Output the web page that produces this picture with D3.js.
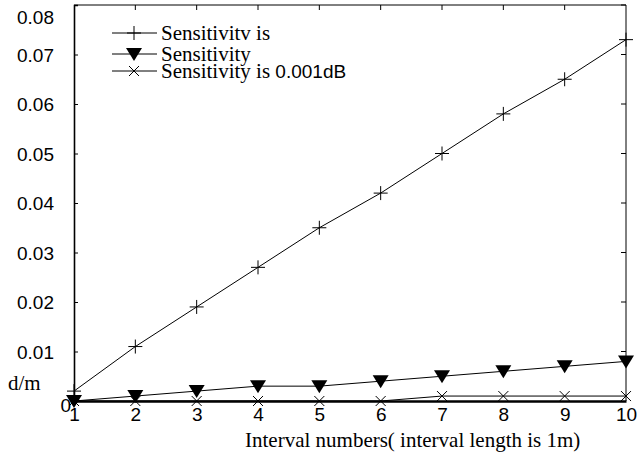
<!DOCTYPE html>
<html>
<head>
<meta charset="utf-8">
<script src="https://cdn.jsdelivr.net/npm/d3@7"></script>
<style>
body { margin: 0; background: #fff; }
svg { display: block; }
</style>
</head>
<body>
<svg id="chart" width="641" height="454"></svg>
<script>
// values
const intervals = [1, 2, 3, 4, 5, 6, 7, 8, 9, 10];
const plusValues = [0.002, 0.011, 0.019, 0.027, 0.035, 0.042, 0.050, 0.058, 0.065, 0.073];
const triValues = [0, 0.001, 0.002, 0.003, 0.003, 0.004, 0.005, 0.006, 0.007, 0.008];
const crossValues = [0, 0, 0, 0, 0, 0, 0.001, 0.001, 0.001, 0.001];
const yTicks = [0.01, 0.02, 0.03, 0.04, 0.05, 0.06, 0.07, 0.08];
const legendLabels = ["Sensitivitv is", "Sensitivity", "Sensitivity is "];

const svg = d3.select("#chart");
const plotLeft = 74, plotRight = 626, plotTop = 5, plotBottom = 401;

const x = d3.scaleLinear().domain([1, 10]).range([plotLeft, plotRight]);
const y = d3.scaleLinear().domain([0, 0.08]).range([plotBottom, plotTop]);

const sans = "'Liberation Sans', Arial, sans-serif";
const serif = "'Liberation Serif', 'Times New Roman', serif";

// frame: top and right thin
svg.append("path")
	.attr("d", `M${plotLeft},${plotTop}H${plotRight}V${plotBottom}`)
	.attr("fill", "none").attr("stroke", "#000").attr("stroke-width", 1);

// left axis
const yAxis = d3.axisLeft(y).tickValues(yTicks).tickSize(-4).tickPadding(20)
	.tickFormat(d3.format(".2f"));
const gy = svg.append("g").attr("transform", `translate(${plotLeft},0)`).call(yAxis);
gy.select(".domain").attr("stroke-width", 1.6);
gy.selectAll("text").attr("font-family", sans).attr("font-size", 19).attr("fill", "#000")
	.attr("dy", d => d === 0.08 ? "0.95em" : "0.36em");

// right ticks
svg.append("g").selectAll("line").data(yTicks).enter().append("line")
	.attr("x1", plotRight).attr("x2", plotRight - 5)
	.attr("y1", d => y(d)).attr("y2", d => y(d))
	.attr("stroke", "#000");

// top ticks
svg.append("g").selectAll("line").data(intervals.slice(1, 9)).enter().append("line")
	.attr("x1", d => x(d)).attr("x2", d => x(d))
	.attr("y1", plotTop).attr("y2", plotTop + 5)
	.attr("stroke", "#000");

// bottom axis
const xAxis = d3.axisBottom(x).tickValues(intervals).tickSize(0).tickPadding(6);
const gx = svg.append("g").attr("transform", `translate(0,${plotBottom})`).call(xAxis);
gx.select(".domain").attr("stroke-width", 2.6);
gx.selectAll("text").attr("font-family", sans).attr("font-size", 19).attr("fill", "#000").attr("dy", "0.75em");

// zero label
svg.append("text").attr("x", plotLeft - 3).attr("y", plotBottom + 11)
	.attr("text-anchor", "end").attr("font-family", sans).attr("font-size", 19).text("0");

// axis labels
svg.append("text").attr("x", 8).attr("y", 390)
	.attr("font-family", serif).attr("font-size", 21).text("d/m");
svg.append("text").attr("x", 245).attr("y", 447)
	.attr("font-family", serif).attr("font-size", 21).text("Interval numbers( interval length is 1m)");

const line = d3.line().x((d, i) => x(intervals[i])).y(d => y(d));

function drawMarker(g, type, cx, cy) {
	if (type === "plus") {
		g.append("path").attr("d", `M${cx - 7},${cy}H${cx + 7}M${cx},${cy - 7}V${cy + 7}`)
			.attr("stroke", "#000").attr("stroke-width", 1).attr("fill", "none");
	} else if (type === "tri") {
		g.append("path").attr("d", `M${cx - 8},${cy - 6}L${cx + 8},${cy - 6}L${cx},${cy + 7}Z`)
			.attr("fill", "#000");
	} else {
		g.append("path").attr("d", `M${cx - 5},${cy - 5}L${cx + 5},${cy + 5}M${cx - 5},${cy + 5}L${cx + 5},${cy - 5}`)
			.attr("stroke", "#000").attr("stroke-width", 1).attr("fill", "none");
	}
}

const series = [
	{ values: crossValues, type: "cross" },
	{ values: triValues, type: "tri" },
	{ values: plusValues, type: "plus" }
];

series.forEach(s => {
	const g = svg.append("g");
	g.append("path").attr("d", line(s.values))
		.attr("fill", "none").attr("stroke", "#000").attr("stroke-width", 1);
	s.values.forEach((v, i) => drawMarker(g, s.type, x(intervals[i]), y(v)));
});

// legend
const legendTypes = ["plus", "tri", "cross"];
const legendY = [33, 54, 71];
legendTypes.forEach((t, i) => {
	const g = svg.append("g");
	g.append("line").attr("x1", 112).attr("x2", 157)
		.attr("y1", legendY[i]).attr("y2", legendY[i])
		.attr("stroke", "#000").attr("stroke-width", 1);
	drawMarker(g, t, 134, legendY[i]);
	const txt = g.append("text").attr("x", 161).attr("y", legendY[i] + 7)
		.attr("font-family", serif).attr("font-size", 21).text(legendLabels[i]);
	if (i === 2) {
		txt.append("tspan").attr("font-family", sans).attr("font-size", 19).text("0.001dB");
	}
});
</script>
</body>
</html>
